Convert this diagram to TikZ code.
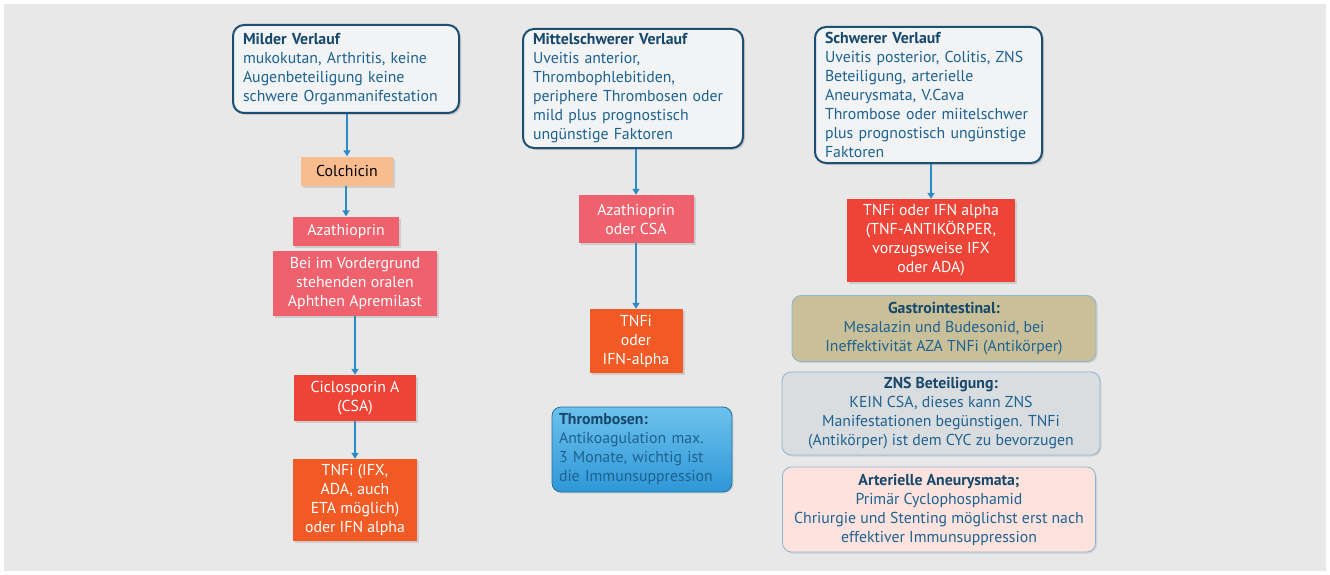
\documentclass[tikz,border=0pt]{standalone}
\usepackage{fontspec}
\setmainfont{PT Sans}
\usetikzlibrary{arrows.meta,shadows}

\definecolor{bggray}{HTML}{E8E8E8}
\definecolor{navy}{HTML}{1D4F72}
\definecolor{txtblue}{HTML}{1E6290}
\definecolor{headblue}{HTML}{17486B}
\definecolor{arrblue}{HTML}{2B8BC6}
\definecolor{casefill}{HTML}{F1F3F5}
\definecolor{peach}{HTML}{F9BC8F}
\definecolor{salmon}{HTML}{EE616D}
\definecolor{redorange}{HTML}{EE4437}
\definecolor{orange}{HTML}{F15A24}
\definecolor{tan}{HTML}{C9BF99}
\definecolor{lgray}{HTML}{DADDE0}
\definecolor{pink}{HTML}{FDE2DE}
\definecolor{noteedge}{HTML}{8DB5CF}
\definecolor{skytop}{HTML}{6DC2EC}
\definecolor{skybot}{HTML}{2E97D7}

\tikzset{
  casebox/.style={draw=navy, line width=2pt, fill=casefill, rounded corners=11pt,
    align=left, text=txtblue, inner xsep=10pt, inner ysep=3pt,
    drop shadow={opacity=0.3, shadow xshift=2pt, shadow yshift=-2pt}},
  drugbox/.style={fill=#1, text=white, align=center, inner sep=2pt,
    drop shadow={opacity=0.25, shadow xshift=2pt, shadow yshift=-2pt}},
  notebox/.style={draw=noteedge, line width=0.8pt, fill=#1, rounded corners=9pt,
    align=center, text=txtblue, inner sep=2pt,
    drop shadow={opacity=0.2, shadow xshift=1.5pt, shadow yshift=-1.5pt}},
  flow/.style={draw=arrblue, line width=1.6pt, -{Triangle[width=7pt,length=6pt]}}
}
\newcommand{\hd}[1]{{\bfseries\color{headblue}#1}}

\begin{document}
\begin{tikzpicture}[x=1pt,y=-1pt,font=\fontsize{15.8}{19}\selectfont]
\useasboundingbox (0,0) rectangle (1330,575);
% background
\fill[bggray] (4,4) rectangle (1326,571);

%% column 1: mild course
\node[casebox, minimum width=226, minimum height=88, text width=206] (mild) at (346,69)
  {\hd{Milder Verlauf}\\ mukokutan, Arthritis, keine\\ Augenbeteiligung keine\\ schwere Organmanifestation};
\node[drugbox=peach, text=black, minimum width=92, minimum height=29] (colch) at (347,171) {Colchicin};
\node[drugbox=salmon, minimum width=106, minimum height=29] (aza) at (346,231) {Azathioprin};
\node[drugbox=salmon, minimum width=164, minimum height=65] (apre) at (355,283)
  {Bei im Vordergrund\\ stehenden oralen\\ Aphthen Apremilast};
\node[drugbox=redorange, minimum width=122, minimum height=46] (csa) at (355,398)
  {Ciclosporin A\\ (CSA)};
\node[drugbox=orange, minimum width=124, minimum height=82] (tnf1) at (355,500)
  {TNFi (IFX,\\ ADA, auch\\ ETA möglich)\\ oder IFN alpha};

%% column 2: moderate course
\node[casebox, minimum width=220, minimum height=119, text width=200] (mod) at (633,88.5)
  {\hd{Mittelschwerer Verlauf}\\ Uveitis anterior,\\ Thrombophlebitiden,\\ periphere Thrombosen oder\\ mild plus prognostisch\\ ungünstige Faktoren};
\node[drugbox=salmon, minimum width=115, minimum height=48] (aza2) at (636,219)
  {Azathioprin\\ oder CSA};
\node[drugbox=orange, minimum width=93, minimum height=64] (tnf2) at (636,341)
  {TNFi\\ oder\\ IFN-alpha};
\node[draw=arrblue!80!black, line width=0.8pt, rounded corners=9pt,
  top color=skytop, bottom color=skybot, align=left, text=txtblue,
  minimum width=180, minimum height=85, text width=166, inner xsep=7pt,
  drop shadow={opacity=0.2, shadow xshift=1.5pt, shadow yshift=-1.5pt}] (thromb) at (642,449.5)
  {\hd{Thrombosen:}\\ Antikoagulation max.\\ 3 Monate, wichtig ist\\ die Immunsuppression};

%% column 3: severe course
\node[casebox, minimum width=227, minimum height=136, text width=207] (sev) at (928.5,95)
  {\hd{Schwerer Verlauf}\\ Uveitis posterior, Colitis, ZNS\\ Beteiligung, arterielle\\ Aneurysmata, V.Cava\\ Thrombose oder miitelschwer\\ plus prognostisch ungünstige\\ Faktoren};
\node[drugbox=redorange, minimum width=168, minimum height=83] (tnf3) at (931,240.5)
  {TNFi oder IFN alpha\\ (TNF-ANTIKÖRPER,\\ vorzugsweise IFX\\ oder ADA)};
\node[notebox=tan, minimum width=304, minimum height=66] (gastro) at (944,328.5)
  {\hd{Gastrointestinal:}\\ Mesalazin und Budesonid, bei\\ Ineffektivität AZA TNFi (Antikörper)};
\node[notebox=lgray, minimum width=318, minimum height=83] (zns) at (941,413.5)
  {\hd{ZNS Beteiligung:}\\ KEIN CSA, dieses kann ZNS\\ Manifestationen begünstigen. TNFi\\ (Antikörper) ist dem CYC zu bevorzugen};
\node[notebox=pink, minimum width=313, minimum height=85] (aneur) at (939,509.5)
  {\hd{Arterielle Aneurysmata;}\\ Primär Cyclophosphamid\\ Chriurgie und Stenting möglichst erst nach\\ effektiver Immunsuppression};

%% arrows
\draw[flow] (mild.south -| colch.north) -- (colch.north);
\draw[flow] (colch.south -| aza.north) -- (aza.north);
\draw[flow] (apre.south) -- (csa.north);
\draw[flow] (csa.south) -- (tnf1.north);
\draw[flow] (aza2.north |- mod.south) -- (aza2.north);
\draw[flow] (aza2.south) -- (tnf2.north);
\draw[flow] (tnf3.north |- sev.south) -- (tnf3.north);

\end{tikzpicture}
\end{document}
